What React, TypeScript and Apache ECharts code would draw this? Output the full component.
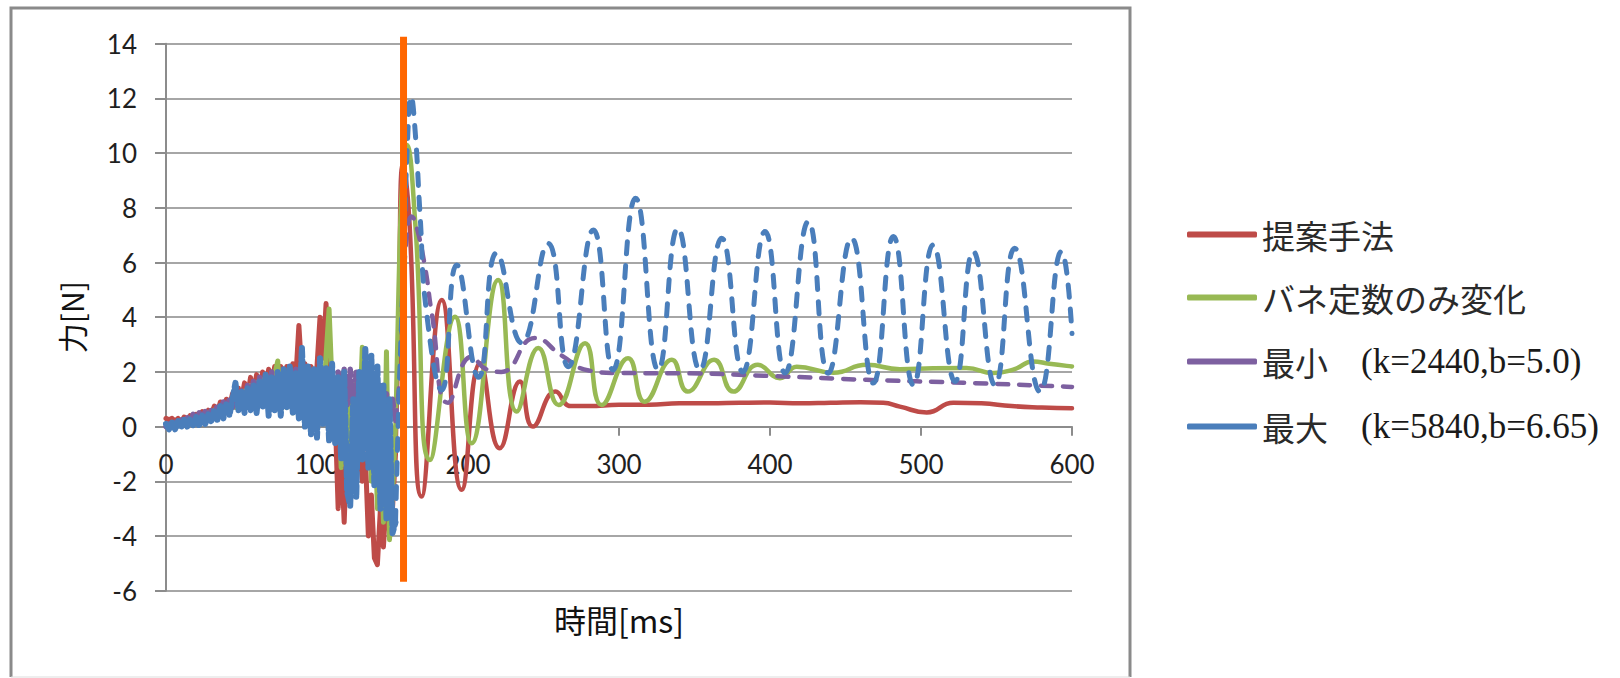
import React, { useEffect, useRef } from "react";
import * as echarts from "echarts";

// ---- data (time in ms, force in N) ----
const seriesNames = [
  "提案手法",
  "バネ定数のみ変化",
  "最小　(k=2440,b=5.0)",
  "最大　(k=5840,b=6.65)",
];
const seriesColors = ["#BE4B48", "#98B954", "#7D60A0", "#4A7EBB"];

// noisy initial phase, sampled every 2 ms
const tNoise = [
  0, 2, 4, 6, 8, 10, 12, 14, 16, 18,
  20, 22, 24, 26, 28, 30, 32, 34, 36, 38,
  40, 42, 44, 46, 48, 50, 52, 54, 56, 58,
  60, 62, 64, 66, 68, 70, 72, 74, 76, 78,
  80, 82, 84, 86, 88, 90, 92, 94, 96, 98,
  100, 102, 104, 106, 108, 110, 112, 114, 116, 118,
  120, 122, 124, 126, 128, 130, 132, 134, 136, 138,
  140, 142, 144, 146, 148, 150, 152,
];

const redNoise = [
  0.3, 0.25, 0.3, 0.2, 0.3, 0.15, 0.35, 0.2, 0.4, 0.25,
  0.45, 0.3, 0.55, 0.35, 0.6, 0.45, 0.75, 0.5, 0.9, 0.6,
  1.0, 0.7, 1.2, 0.9, 1.4, 1.0, 1.6, 1.1, 1.8, 1.2,
  1.9, 1.3, 2.0, 1.4, 2.1, 1.5, 2.2, 1.6, 2.2, 1.5,
  2.2, 1.6, 2.3, 1.8, 3.7, 1.9, 2.3, 1.6, 2.2, 1.4,
  2.2, 4.0, 2.5, 4.5, 1.5, 2.0, 0.5, -3.0, -1.0, -3.5,
  -0.5, 1.0, -1.0, 1.5, -0.5, -2.0, -1.0, -4.0, -2.5, -4.8,
  -5.05, -3.0, -4.4, -2.5, -3.8, -3.0, -1.0,
];
const greenNoise = [
  0.1, 0.0, 0.15, 0.05, 0.2, 0.1, 0.25, 0.1, 0.3, 0.15,
  0.35, 0.2, 0.4, 0.25, 0.5, 0.3, 0.6, 0.4, 0.7, 0.5,
  0.8, 0.6, 0.9, 0.7, 1.1, 0.8, 1.3, 0.9, 1.5, 0.9,
  1.6, 1.0, 1.7, 0.9, 1.8, 0.8, 1.9, 2.4, 0.6, 1.8,
  0.7, 1.9, 0.5, 2.0, 0.6, 2.1, 0.4, 2.0, 0.5, 1.9,
  0.2, 2.2, 0.4, 2.6, 4.3, 1.5, -0.5, 1.8, -1.5, 1.5,
  -1.0, 1.2, -2.0, 1.8, 0.0, 2.9, -0.5, 2.2, -2.0, 1.0,
  -3.0, 0.5, -3.5, 2.74, -4.14, -2.5, 0.0,
];
const purpleNoise = [
  0.0, 0.1, -0.05, 0.15, 0.05, 0.25, 0.1, 0.35, 0.15, 0.45,
  0.2, 0.5, 0.25, 0.55, 0.35, 0.6, 0.45, 0.75, 0.5, 0.9,
  0.6, 1.0, 0.7, 1.1, 0.8, 1.3, 0.9, 1.5, 1.0, 1.7,
  1.1, 1.8, 1.0, 1.9, 0.9, 2.0, 1.0, 2.0, 0.8, 2.1,
  0.9, 2.0, 0.7, 2.1, 0.6, 2.0, 0.5, 2.1, 0.6, 2.0,
  0.4, 2.1, 0.5, 2.0, 0.3, 2.1, 0.2, 2.0, 0.5, 2.1,
  0.8, 2.1, 0.5, 2.0, 0.3, 1.8, 0.2, 1.6, 0.4, 1.7,
  0.3, 1.5, 0.4, 1.2, 0.5, 1.0, 0.2,
];
const blueNoise = [
  0.1, -0.1, 0.15, -0.1, 0.2, -0.05, 0.25, 0.0, 0.3, 0.05,
  0.35, 0.0, 0.4, 0.1, 0.45, 0.15, 0.6, 0.25, 0.75, 0.3,
  0.85, 0.4, 1.0, 1.6, 0.6, 1.3, 0.5, 1.4, 0.6, 1.5,
  0.5, 1.7, 0.7, 1.9, 0.4, 1.8, 0.6, 2.0, 0.4, 2.1,
  0.7, 2.2, 0.5, 2.0, 0.3, 2.9, 0.0, 2.2, -0.3, 2.1,
  -0.4, 2.5, 0.1, 2.2, -0.5, 2.3, -0.6, 1.8, -1.2, 2.0,
  -2.4, -2.9, 1.0, -2.6, 2.0, -1.2, 2.9, -1.5, 2.6, -2.2,
  2.2, -3.0, 1.5, -3.4, 1.0, -3.9, -3.5,
];

// impact and settling phase (key points)
const redTailT = [152, 154, 157, 161.3, 169.3, 182.6, 195.8, 208, 221, 234.4, 243, 258, 268, 280, 300, 320, 340, 360, 380, 400, 420, 440, 460, 475, 486, 503.8, 521.4, 540, 560, 580, 600];
const redTailV = [-1.0, 3.5, 9.6, 7.4, -2.56, 4.63, -2.31, 2.32, -0.79, 1.65, 0.0, 1.28, 0.75, 0.75, 0.8, 0.8, 0.85, 0.85, 0.87, 0.88, 0.85, 0.87, 0.89, 0.87, 0.73, 0.52, 0.87, 0.85, 0.75, 0.7, 0.67];

const greenTailT = [152, 154, 156.5, 159.4, 165, 174.8, 191.4, 202.4, 220, 232.3, 246.6, 260, 277.5, 288.5, 306, 317, 335, 345.5, 363, 375.7, 392, 406.6, 417.7, 442, 464, 486, 508, 530, 548, 562, 574, 585, 596.5, 600];
const greenTailV = [0.0, 5.0, 9.0, 10.3, 7.5, -1.22, 4.02, -0.61, 5.36, 0.55, 2.87, 0.79, 3.05, 0.79, 2.5, 0.91, 2.44, 1.28, 2.44, 1.28, 2.26, 1.77, 2.19, 1.97, 2.26, 2.1, 2.13, 2.14, 1.96, 2.1, 2.38, 2.3, 2.22, 2.2];

const purpleTailT = [152, 155, 158, 162.7, 165, 171.5, 176, 186.8, 202.4, 212, 222, 244.4, 262, 280, 300, 340, 400, 464, 530, 596.5, 600];
const purpleTailV = [0.2, 2.0, 6.0, 7.68, 7.5, 5.85, 4.15, 0.87, 2.56, 2.1, 2.0, 3.24, 2.6, 2.05, 1.96, 1.95, 1.85, 1.71, 1.6, 1.46, 1.45];

const blueTailT = [152, 154, 157, 160, 162.3, 165, 168.2, 172.6, 182.6, 192.5, 207, 219, 235.6, 253, 266.4, 283, 296, 311, 326, 339, 353.6, 368, 382, 396.7, 410, 425.4, 438.6, 454, 468.4, 481.7, 495, 508, 522.5, 534.6, 549, 562, 578.8, 593, 600];
const blueTailV = [-3.5, 0.5, 5.5, 10.5, 12.07, 10.8, 7.8, 4.15, 1.34, 5.91, 1.8, 6.35, 3.06, 6.7, 2.19, 7.19, 2.07, 8.35, 2.07, 7.25, 2.07, 6.89, 2.0, 7.13, 1.96, 7.5, 1.95, 6.89, 1.59, 6.95, 1.52, 6.64, 1.65, 6.4, 1.52, 6.52, 1.28, 6.4, 3.4];

// marker line (impact instant)
const markerT = [157.3, 157.3];
const markerV = [14.25, -5.67];

const pairs = (t: number[], v: number[]) => t.map((x, i) => [x, v[i]]);

export default function App() {
  const ref = useRef<HTMLDivElement>(null);
  useEffect(() => {
    if (!ref.current) return;
    const chart = echarts.init(ref.current, undefined, { renderer: "svg" });

    const noise = [redNoise, greenNoise, purpleNoise, blueNoise];
    const tailsT = [redTailT, greenTailT, purpleTailT, blueTailT];
    const tailsV = [redTailV, greenTailV, purpleTailV, blueTailV];
    const widths = [4.5, 4.5, 4.5, 5];
    const noiseWidths = [5, 5, 5.5, 6];
    const types: any[] = ["solid", "solid", [11, 11], [12, 12]];
    const noiseTypes: any[] = ["solid", "solid", [8, 5], [9, 4]];

    const series: any[] = [];
    seriesNames.forEach((name, i) => {
      const ls = {
        color: seriesColors[i],
        width: widths[i],
        type: types[i],
        cap: "round",
        join: "round",
      };
      series.push({
        name,
        type: "line",
        data: pairs(tNoise, noise[i]),
        showSymbol: false,
        symbol: "none",
        color: seriesColors[i],
        lineStyle: { ...ls, width: noiseWidths[i], type: noiseTypes[i] },
        z: 2 + i,
      });
      series.push({
        name,
        type: "line",
        data: pairs(tailsT[i], tailsV[i]),
        showSymbol: false,
        symbol: "none",
        smooth: 0.5,
        color: seriesColors[i],
        lineStyle: ls,
        z: 2 + i,
      });
    });
    series.push({
      name: "marker",
      type: "line",
      data: pairs(markerT, markerV),
      symbol: "none",
      clip: false,
      silent: true,
      lineStyle: { color: "#FF6600", width: 7 },
      z: 10,
    });

    const axisGray = "#8c8c8c";
    chart.setOption({
      animation: false,
      grid: {
        left: 166,
        right: 548,
        top: 43.7,
        bottom: 87.3,
        containLabel: false,
        outerBoundsMode: "none",
      },
      xAxis: {
        type: "value",
        min: 0,
        max: 600,
        interval: 100,
        position: "bottom",
        offset: -164,
        axisLine: { onZero: false, lineStyle: { color: axisGray, width: 2 } },
        axisTick: { show: true, length: 9, lineStyle: { color: axisGray, width: 2 } },
        axisLabel: { fontSize: 26, color: "#1f1f1f", fontFamily: "Lato", margin: 24 },
        splitLine: { show: false },
        name: "時間[ms]",
        nameLocation: "middle",
        nameGap: 176,
        nameTextStyle: { fontSize: 32, color: "#111", fontFamily: "Noto Sans CJK JP" },
      },
      yAxis: {
        type: "value",
        min: -6,
        max: 14,
        interval: 2,
        axisLine: { show: true, onZero: false, lineStyle: { color: axisGray, width: 2 } },
        axisTick: { show: true, length: 11, lineStyle: { color: axisGray, width: 2 } },
        axisLabel: { fontSize: 26, color: "#1f1f1f", fontFamily: "Lato", margin: 29 },
        splitLine: { show: true, lineStyle: { color: "#a6a6a6", width: 2 } },
        name: "力[N]",
        nameLocation: "middle",
        nameGap: 80,
        nameTextStyle: { fontSize: 30, color: "#111", fontFamily: "Noto Sans CJK JP" },
      },
      legend: {
        data: seriesNames,
        orient: "vertical",
        left: 1182,
        top: 213,
        itemWidth: 70,
        itemHeight: 6,
        itemGap: 30,
        icon: "roundRect",
        formatter: (name: string) => {
          const k = name.indexOf("　");
          if (k < 0) return `{a|${name}}`;
          return `{a|${name.slice(0, k)}}{a|　}{b|${name.slice(k + 1)}}`;
        },
        textStyle: {
          rich: {
            a: { fontSize: 33, fontFamily: "Noto Sans CJK JP", color: "#2a2a2a", lineHeight: 40 },
            b: { fontSize: 35, fontFamily: "Liberation Serif", color: "#1a1a1a", lineHeight: 40 },
          },
        },
      },
      graphic: [
        {
          type: "polyline",
          shape: { points: [[11, 677], [11, 8], [1130, 8], [1130, 677]] },
          style: { stroke: "#8a8a8a", lineWidth: 3, fill: "none" },
          silent: true,
        },
        {
          type: "line",
          shape: { x1: 11, y1: 677, x2: 1130, y2: 677 },
          style: { stroke: "#dddddd", lineWidth: 1 },
          silent: true,
        },
      ],
      series,
    });
    return () => chart.dispose();
  }, []);
  return (
    <div
      ref={ref}
      style={{ position: "absolute", left: 0, top: 0, width: 1620, height: 678, background: "#fff" }}
    />
  );
}
